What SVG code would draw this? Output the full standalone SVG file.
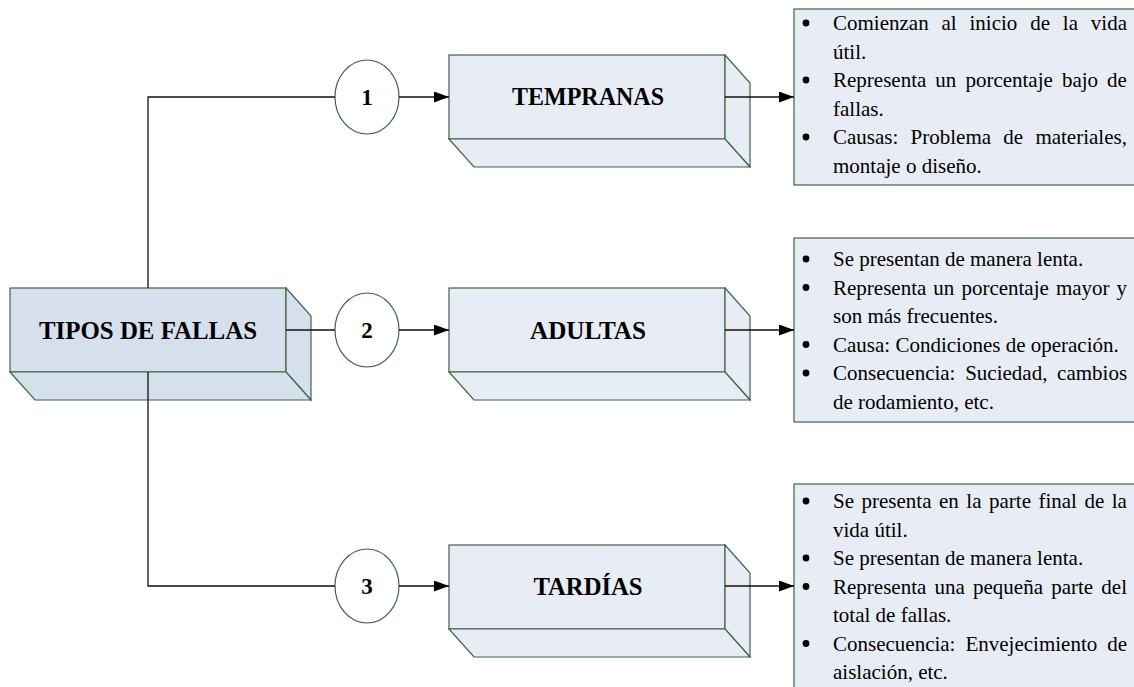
<svg xmlns="http://www.w3.org/2000/svg" width="1134" height="687" viewBox="0 0 1134 687">
  <style>
    .face { stroke: #3b6547; stroke-width: 1.2; stroke-linejoin: miter; }
    .main { fill: #d6e0ec; }
    .sub { fill: #e8edf5; }
    .num { fill: #ffffff; stroke: #3b6547; stroke-width: 1.2; }
    .note { fill: #e8edf5; stroke: #3b6547; stroke-width: 1.2; }
    .title { font-family: "Liberation Serif", "Times New Roman", serif; font-weight: bold; font-size: 26px; fill: #000; text-anchor: middle; }
    .digit { font-family: "Liberation Serif", "Times New Roman", serif; font-weight: bold; font-size: 23px; fill: #000; text-anchor: middle; }
    .body { font-family: "Liberation Serif", "Times New Roman", serif; font-size: 21px; fill: #000; }
    .dot { fill: #000; }
    .wire { fill: none; stroke: #111; stroke-width: 1.3; }
  </style>
  <defs>
    <marker id="arrow" markerUnits="userSpaceOnUse" markerWidth="15" markerHeight="11" refX="15" refY="5.5" orient="auto">
      <path d="M0,0 L15,5.5 L0,11 z" fill="#000"/>
    </marker>
  </defs>

  <rect width="1134" height="687" fill="#ffffff"/>

  <!-- root block -->
  <g id="tipos">
    <rect class="face main" x="10" y="288" width="276" height="84"/>
    <polygon class="face main" points="286,288 311,316 311,400 286,372"/>
    <polygon class="face main" points="10,372 286,372 311,400 35,400"/>
    <text class="title" x="148" y="339" textLength="218" lengthAdjust="spacingAndGlyphs">TIPOS DE FALLAS</text>
  </g>

  <!-- category blocks -->
  <g id="tempranas">
    <rect class="face sub" x="449" y="55" width="276" height="84"/>
    <polygon class="face sub" points="725,55 750,83 750,167 725,139"/>
    <polygon class="face sub" points="449,139 725,139 750,167 474,167"/>
    <text class="title" x="588" y="105" textLength="152" lengthAdjust="spacingAndGlyphs">TEMPRANAS</text>
  </g>
  <g id="adultas">
    <rect class="face sub" x="449" y="288" width="276" height="84"/>
    <polygon class="face sub" points="725,288 750,316 750,400 725,372"/>
    <polygon class="face sub" points="449,372 725,372 750,400 474,400"/>
    <text class="title" x="588" y="339" textLength="116" lengthAdjust="spacingAndGlyphs">ADULTAS</text>
  </g>
  <g id="tardias">
    <rect class="face sub" x="449" y="545" width="276" height="84"/>
    <polygon class="face sub" points="725,545 750,573 750,657 725,629"/>
    <polygon class="face sub" points="449,629 725,629 750,657 474,657"/>
    <text class="title" x="588" y="595" textLength="109" lengthAdjust="spacingAndGlyphs">TARDÍAS</text>
  </g>

  <!-- numbered markers -->
  <g id="n1">
    <ellipse class="num" cx="367" cy="97" rx="32" ry="37"/>
    <text class="digit" x="367" y="105">1</text>
  </g>
  <g id="n2">
    <ellipse class="num" cx="367" cy="330" rx="32" ry="37"/>
    <text class="digit" x="367" y="338">2</text>
  </g>
  <g id="n3">
    <ellipse class="num" cx="367" cy="586" rx="32" ry="37"/>
    <text class="digit" x="367" y="594">3</text>
  </g>

  <!-- description panels (list markers are round dots) -->
  <g id="desc-tempranas">
    <rect class="note" x="794" y="9" width="350" height="176"/>
    <circle class="dot" cx="806" cy="23" r="3.4"/>
    <text class="body" x="833" y="30" word-spacing="7.6">Comienzan al inicio de la vida</text>
    <text class="body" x="833" y="58.5">útil.</text>
    <circle class="dot" cx="806" cy="80" r="3.4"/>
    <text class="body" x="833" y="87" word-spacing="3.8">Representa un porcentaje bajo de</text>
    <text class="body" x="833" y="115.5">fallas.</text>
    <circle class="dot" cx="806" cy="137" r="3.4"/>
    <text class="body" x="833" y="144" word-spacing="7">Causas: Problema de materiales,</text>
    <text class="body" x="833" y="172.5">montaje o diseño.</text>
  </g>
  <g id="desc-adultas">
    <rect class="note" x="794" y="238" width="350" height="184"/>
    <circle class="dot" cx="806" cy="259" r="3.4"/>
    <text class="body" x="833" y="266">Se presentan de manera lenta.</text>
    <circle class="dot" cx="806" cy="287.5" r="3.4"/>
    <text class="body" x="833" y="294.5" word-spacing="1.8">Representa un porcentaje mayor y</text>
    <text class="body" x="833" y="323">son más frecuentes.</text>
    <circle class="dot" cx="806" cy="344.5" r="3.4"/>
    <text class="body" x="833" y="351.5">Causa: Condiciones de operación.</text>
    <circle class="dot" cx="806" cy="373" r="3.4"/>
    <text class="body" x="833" y="380" word-spacing="4.45">Consecuencia: Suciedad, cambios</text>
    <text class="body" x="833" y="408.5">de rodamiento, etc.</text>
  </g>
  <g id="desc-tardias">
    <rect class="note" x="794" y="484" width="350" height="220"/>
    <circle class="dot" cx="806" cy="501" r="3.4"/>
    <text class="body" x="833" y="508" word-spacing="2.26">Se presenta en la parte final de la</text>
    <text class="body" x="833" y="536.5">vida útil.</text>
    <circle class="dot" cx="806" cy="558" r="3.4"/>
    <text class="body" x="833" y="565">Se presentan de manera lenta.</text>
    <circle class="dot" cx="806" cy="586.5" r="3.4"/>
    <text class="body" x="833" y="593.5" word-spacing="2.95">Representa una pequeña parte del</text>
    <text class="body" x="833" y="622">total de fallas.</text>
    <circle class="dot" cx="806" cy="643.5" r="3.4"/>
    <text class="body" x="833" y="650.5" word-spacing="4.75">Consecuencia: Envejecimiento de</text>
    <text class="body" x="833" y="679">aislación, etc.</text>
  </g>

  <!-- connectors -->
  <g id="connectors">
    <path class="wire" d="M148,288 V97 H335"/>
    <path class="wire" d="M148,372 V586 H335"/>
    <path class="wire" d="M286,330 H335"/>
    <path class="wire" d="M399,97 H449" marker-end="url(#arrow)"/>
    <path class="wire" d="M399,330 H449" marker-end="url(#arrow)"/>
    <path class="wire" d="M399,586 H449" marker-end="url(#arrow)"/>
    <path class="wire" d="M725,97 H794" marker-end="url(#arrow)"/>
    <path class="wire" d="M725,330 H794" marker-end="url(#arrow)"/>
    <path class="wire" d="M725,586 H794" marker-end="url(#arrow)"/>
  </g>
</svg>
